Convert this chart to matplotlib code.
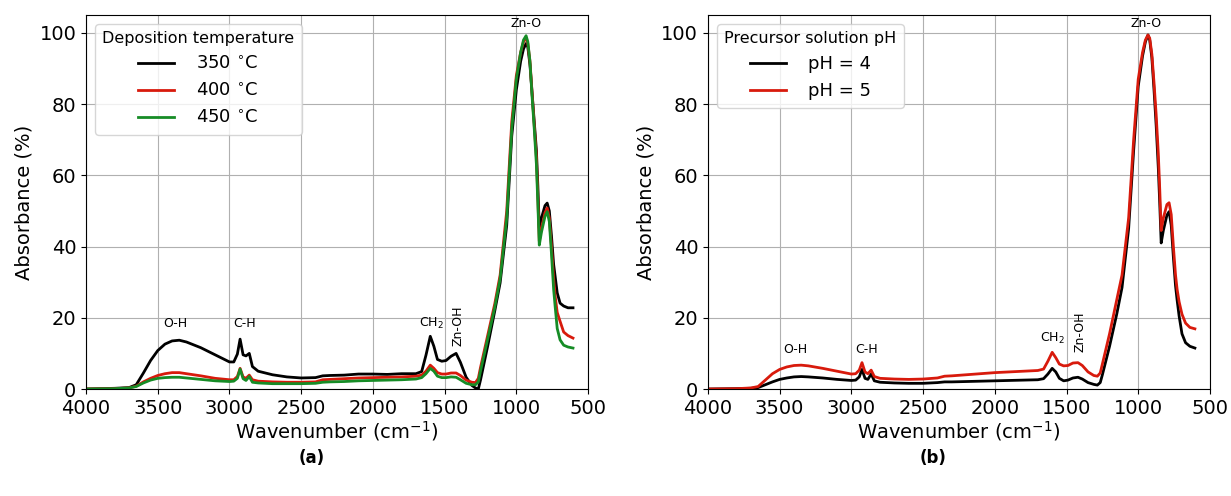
import matplotlib
matplotlib.use('Agg')

import numpy as np
import matplotlib.pyplot as plt

# wavenumber grid (cm-1) shared by all traces
wavenumber = [4000, 3800, 3700, 3650, 3600, 3550, 3500, 3450, 3400, 3350,
              3300, 3200, 3100, 3000, 2970, 2945, 2926, 2905, 2885, 2862,
              2840, 2800, 2700, 2600, 2500, 2400, 2350, 2300, 2200, 2100,
              2000, 1900, 1800, 1700, 1660, 1630, 1600, 1575, 1550, 1520,
              1490, 1455, 1420, 1390, 1350, 1310, 1285, 1265, 1250, 1200,
              1150, 1113, 1067, 1032, 1000, 970, 950, 932, 920, 905,
              890, 875, 860, 850, 840, 825, 800, 785, 770, 755, 740,
              729, 715, 695, 670, 640, 605]

# (a) deposition temperature
abs_350 = [0.0, 0.2, 0.4, 1.2, 4.5, 8.0, 10.8, 12.6, 13.5, 13.7,
           13.2, 11.6, 9.6, 7.6, 7.6, 9.8, 14.0, 9.6, 9.3, 10.0,
           6.3, 5.0, 4.0, 3.4, 3.1, 3.2, 3.7, 3.8, 3.9, 4.2,
           4.2, 4.1, 4.3, 4.3, 4.9, 9.5, 14.8, 12.0, 8.3, 7.8,
           8.0, 9.2, 10.0, 7.5, 3.3, 1.0, 0.3, 0.0, 2.5, 12.0,
           22.0, 29.8, 46.0, 71.0, 84.0, 92.0, 95.5, 97.0, 96.0, 91.0,
           83.0, 75.0, 67.0, 57.0, 45.2, 48.0, 51.5, 52.2, 50.0, 43.0, 35.0,
           31.5, 27.0, 24.1, 23.3, 22.8, 22.8]
abs_400 = [0.0, 0.1, 0.3, 0.8, 2.0, 3.0, 3.8, 4.3, 4.6, 4.6,
           4.3, 3.7, 3.0, 2.6, 2.6, 3.5, 5.8, 3.4, 3.0, 3.9,
           2.6, 2.2, 2.0, 1.9, 1.9, 2.0, 2.6, 2.7, 2.9, 3.1,
           3.2, 3.3, 3.4, 3.6, 3.9, 5.0, 6.7, 5.8, 4.6, 4.2,
           4.2, 4.5, 4.5, 3.8, 2.5, 1.9, 1.8, 3.0, 6.0, 15.0,
           24.0, 32.0, 50.0, 75.0, 88.0, 94.5, 97.5, 98.6, 97.0, 92.0,
           83.0, 74.0, 65.0, 54.0, 41.5, 45.0, 49.5, 50.8, 48.0, 40.0, 31.0,
           26.0, 21.5, 19.0, 16.0, 15.0, 14.3]
abs_450 = [0.0, 0.1, 0.3, 0.7, 1.7, 2.5, 3.0, 3.2, 3.3, 3.3,
           3.1, 2.7, 2.3, 2.1, 2.2, 3.0, 5.6, 2.9, 2.4, 3.5,
           1.9, 1.7, 1.5, 1.5, 1.5, 1.6, 1.9, 2.0, 2.1, 2.3,
           2.4, 2.5, 2.6, 2.8, 3.2, 4.3, 5.8, 5.0, 3.6, 3.2,
           3.2, 3.4, 3.3, 2.6, 1.6, 1.2, 1.2, 2.0, 5.0, 14.0,
           23.0, 31.0, 48.0, 73.0, 87.0, 94.5, 98.0, 99.2, 97.5, 92.0,
           82.0, 73.0, 63.0, 52.0, 40.4, 44.0, 48.5, 49.8, 47.0, 38.0, 28.0,
           23.0, 17.0, 13.8, 12.3, 11.8, 11.5]

# (b) precursor solution pH
abs_ph4 = [0.0, 0.1, 0.2, 0.4, 1.2, 2.0, 2.7, 3.1, 3.4, 3.5,
           3.4, 3.1, 2.7, 2.4, 2.5, 3.4, 5.5, 3.0, 2.7, 4.2,
           2.3, 1.9, 1.7, 1.6, 1.6, 1.8, 2.0, 2.0, 2.1, 2.2,
           2.3, 2.4, 2.5, 2.6, 2.9, 4.2, 5.8, 4.8, 3.0, 2.3,
           2.5, 3.1, 3.3, 2.8, 1.8, 1.3, 1.1, 1.8, 4.0, 12.0,
           21.0, 28.5, 45.0, 67.0, 85.0, 93.5, 97.5, 99.4, 98.0, 93.0,
           84.0, 74.0, 62.0, 52.0, 41.0, 44.5, 48.8, 49.8, 46.0, 37.0, 29.0,
           25.0, 20.5, 15.5, 13.0, 12.0, 11.5]
abs_ph5 = [0.0, 0.1, 0.3, 0.7, 2.5, 4.3, 5.5, 6.2, 6.6, 6.7,
           6.5, 5.8, 5.0, 4.2, 4.3, 5.3, 7.4, 4.8, 4.3, 5.3,
           3.5, 3.0, 2.8, 2.7, 2.8, 3.1, 3.6, 3.7, 4.0, 4.3,
           4.6, 4.8, 5.0, 5.2, 5.6, 7.8, 10.3, 8.8, 7.0, 6.5,
           6.6, 7.3, 7.4, 6.6, 4.8, 3.8, 3.6, 4.5, 7.0, 15.5,
           25.0, 32.0, 48.0, 70.0, 87.0, 94.5, 98.0, 99.4, 98.5, 94.0,
           86.0, 77.0, 66.0, 56.0, 44.5, 48.0, 51.8, 52.3, 49.0, 40.0, 32.0,
           28.0, 24.5, 21.0, 18.5, 17.3, 16.9]

labels_a = ['350 $^{\\circ}$C', '400 $^{\\circ}$C', '450 $^{\\circ}$C']
labels_b = ['pH = 4', 'pH = 5']

# band labels: (text, wavenumber, absorbance, rotation)
bands_a = [('O-H', 3380, 18.3, 0), ('C-H', 2898, 18.3, 0),
           ('CH$_2$', 1594, 18.3, 0), ('Zn-OH', 1406, 17.7, 90),
           ('Zn-O', 932, 102.5, 0)]
bands_b = [('O-H', 3391, 11.2, 0), ('C-H', 2892, 11.2, 0),
           ('CH$_2$', 1595, 14.3, 0), ('Zn-OH', 1406, 16.0, 90),
           ('Zn-O', 946, 102.5, 0)]

BLACK = 'black'
RED = '#d81a0c'
GREEN = '#168c26'

fig = plt.figure(figsize=(12.31, 4.96), dpi=100)
ax1 = fig.add_axes([0.0699, 0.2157, 0.4078, 0.7540])
ax2 = fig.add_axes([0.5751, 0.2157, 0.4078, 0.7540])

ax1.plot(wavenumber, abs_350, color=BLACK, lw=2, label=labels_a[0])
ax1.plot(wavenumber, abs_400, color=RED, lw=2, label=labels_a[1])
ax1.plot(wavenumber, abs_450, color=GREEN, lw=2, label=labels_a[2])

ax2.plot(wavenumber, abs_ph4, color=BLACK, lw=2, label=labels_b[0])
ax2.plot(wavenumber, abs_ph5, color=RED, lw=2, label=labels_b[1])

for ax, bands in ((ax1, bands_a), (ax2, bands_b)):
    ax.set_xlim(4000, 500)
    ax.set_ylim(0, 105)
    ax.set_xticks(np.arange(4000, 499, -500))
    ax.set_yticks(np.arange(0, 101, 20))
    ax.tick_params(labelsize=14)
    ax.grid(True)
    ax.set_xlabel('Wavenumber (cm$^{-1}$)', fontsize=14, labelpad=1)
    ax.set_ylabel('Absorbance (%)', fontsize=14)
    for txt, x, y, rot in bands:
        ax.text(x, y, txt, fontsize=9, ha='center', va='center', rotation=rot)

ax1.legend(title='Deposition temperature', loc='upper left', fontsize=13,
           title_fontsize=11.5, handletextpad=1.2)
ax2.legend(title='Precursor solution pH', loc='upper left', fontsize=13,
           title_fontsize=11.5, handletextpad=1.2)

fig.text(0.2535, 0.0766, '(a)', fontsize=12, fontweight='bold', ha='center', va='center')
fig.text(0.758, 0.0766, '(b)', fontsize=12, fontweight='bold', ha='center', va='center')

fig.savefig('out.png', dpi=100)
